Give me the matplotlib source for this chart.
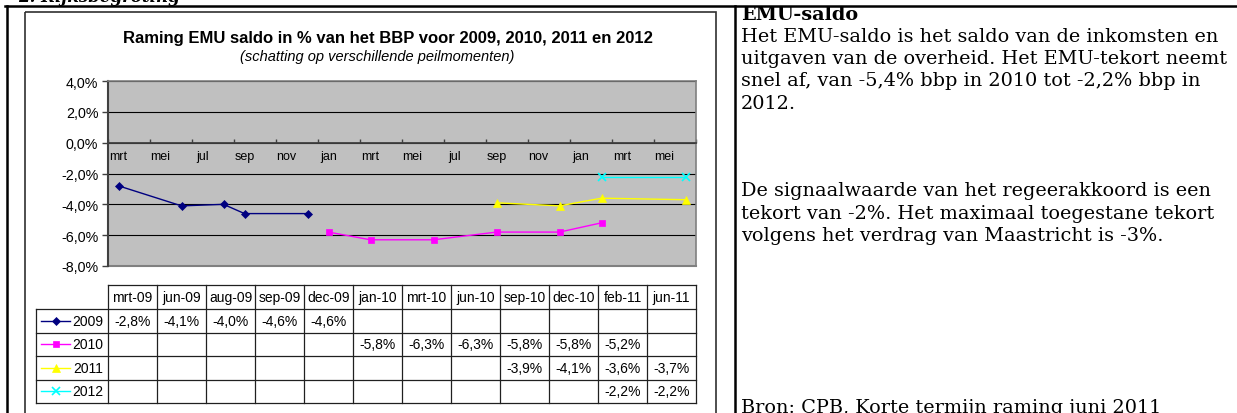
import matplotlib
matplotlib.use('Agg')
import matplotlib.pyplot as plt
import numpy as np
from matplotlib.patches import Rectangle

W, H = 1237, 414
nan = np.nan

maanden = ['jan', 'feb', 'mrt', 'apr', 'mei', 'jun', 'jul', 'aug', 'sep', 'okt', 'nov', 'dec']
peilmomenten = ['mrt-09', 'jun-09', 'aug-09', 'sep-09', 'dec-09', 'jan-10',
                'mrt-10', 'jun-10', 'sep-10', 'dec-10', 'feb-11', 'jun-11']
jaren = ['2009', '2010', '2011', '2012']
saldo_2009 = [-2.8, -4.1, -4.0, -4.6, -4.6, nan, nan, nan, nan, nan, nan, nan]
saldo_2010 = [nan, nan, nan, nan, nan, -5.8, -6.3, -6.3, -5.8, -5.8, -5.2, nan]
saldo_2011 = [nan, nan, nan, nan, nan, nan, nan, nan, -3.9, -4.1, -3.6, -3.7]
saldo_2012 = [nan, nan, nan, nan, nan, nan, nan, nan, nan, nan, -2.2, -2.2]
reeksen = [saldo_2009, saldo_2010, saldo_2011, saldo_2012]

kleuren = ['#000080', '#ff00ff', '#ffff00', '#00ffff']
markers = ['D', 's', '^', 'x']
msizes = [4, 5, 6, 5.5]

titel = 'Raming EMU saldo in % van het BBP voor 2009, 2010, 2011 en 2012'
subtitel = '(schatting op verschillende peilmomenten)'
alinea1 = ['Het EMU-saldo is het saldo van de inkomsten en',
           'uitgaven van de overheid. Het EMU-tekort neemt',
           'snel af, van -5,4% bbp in 2010 tot -2,2% bbp in',
           '2012.']
alinea2 = ['De signaalwaarde van het regeerakkoord is een',
           'tekort van -2%. Het maximaal toegestane tekort',
           'volgens het verdrag van Maastricht is -3%.']
bron = 'Bron: CPB, Korte termijn raming juni 2011'


def maand_index(label):
    m, j = label.split('-')
    return (int(j) - 9) * 12 + maanden.index(m) - 2


def pct(v):
    return ('%.1f%%' % v).replace('.', ',')


xpos = np.array([maand_index(p) for p in peilmomenten]) + 0.5
n_maanden = maand_index('jun-11') + 1

fig = plt.figure(figsize=(W / 100, H / 100), dpi=100)

# achtergrond-laag in pixelcoordinaten
bg = fig.add_axes([0, 0, 1, 1], zorder=0)
bg.set_xlim(0, W)
bg.set_ylim(H, 0)
bg.axis('off')

# pagina-lijnen
bg.plot([5, W], [7, 7], color='black', lw=1.8)
bg.plot([6.5, 6.5], [7, H], color='black', lw=1.8)
bg.plot([734.5, 734.5], [7, H], color='black', lw=1.8)
bg.text(18, 1.5, '2. Rijksbegroting', family='DejaVu Serif', fontsize=12,
        fontweight='bold', style='italic', va='baseline')

# grafiekgebied
bg.add_patch(Rectangle((25, 13), 691, 420, fill=False, ec='#303030', lw=1.2))
bg.text(388, 38, titel, family='Liberation Sans', fontsize=12, fontweight='bold',
        ha='center', va='center')
bg.text(377, 57, subtitel, family='Liberation Sans', fontsize=10.5, style='italic',
        ha='center', va='center')

# plot
ax = fig.add_axes([108 / W, 1 - 267 / H, 588 / W, 185 / H], zorder=1)
ax.set_facecolor('#c0c0c0')
ax.set_xlim(0, n_maanden)
ax.set_ylim(-8, 4)
yt = np.arange(-8, 4.1, 2)
ax.set_yticks(yt)
ax.set_yticklabels([pct(v) for v in yt], family='Liberation Sans', fontsize=10.3)
ax.yaxis.grid(True, color='black', lw=0.8)
ax.set_axisbelow(True)
ax.tick_params(axis='y', length=4, width=1, color='#404040', pad=3)

ax.spines['bottom'].set_position(('data', 0))
ax.spines['bottom'].set_color('#404040')
ax.spines['bottom'].set_linewidth(1.3)
ax.spines['left'].set_color('#404040')
ax.spines['left'].set_linewidth(1.5)
for s in ['top', 'right']:
    ax.spines[s].set_color('#808080')
    ax.spines[s].set_linewidth(1.2)
ax.axhline(-8, color='#808080', lw=1.5, clip_on=False)

ax.set_xticks(np.arange(0, n_maanden + 1, 2))
ax.set_xticklabels([])
ax.tick_params(axis='x', which='major', direction='in', length=3, width=1, color='#404040')
ax.set_xticks(np.arange(0, n_maanden, 2) + 0.5, minor=True)
ax.set_xticklabels([maanden[(i + 2) % 12] for i in range(0, n_maanden, 2)], minor=True,
                   family='Liberation Sans', fontsize=9)
ax.tick_params(axis='x', which='minor', length=0, pad=5)

for waarden, kl, mk, ms in zip(reeksen, kleuren, markers, msizes):
    w = np.array(waarden)
    ok = ~np.isnan(w)
    ax.plot(xpos[ok], w[ok], color=kl, marker=mk, markersize=ms, lw=1,
            markeredgewidth=1.2 if mk == 'x' else 0.5, markeredgecolor=kl, clip_on=False)

# datatabel
x0, kolb = 108, 49
rij_y = [310, 333.5, 357, 380.5, 404]
kop_top = 286
x_eind = x0 + kolb * len(peilmomenten)
lijn = dict(color='#202020', lw=0.9)
bg.plot([x0, x_eind], [kop_top, kop_top], **lijn)
for y in rij_y:
    bg.plot([36, x_eind], [y, y], **lijn)
bg.plot([36, 36], [rij_y[0], rij_y[-1]], **lijn)
for i in range(len(peilmomenten) + 1):
    bg.plot([x0 + i * kolb] * 2, [kop_top, rij_y[-1]], **lijn)
for i, p in enumerate(peilmomenten):
    bg.text(x0 + (i + 0.5) * kolb, (kop_top + rij_y[0]) / 2, p, family='Liberation Sans',
            fontsize=10, ha='center', va='center')
for r, (jaar, waarden) in enumerate(zip(jaren, reeksen)):
    yc = (rij_y[r] + rij_y[r + 1]) / 2
    bg.plot([41, 70], [yc, yc], color=kleuren[r], lw=1)
    bg.plot([55.5], [yc], marker=markers[r], color=kleuren[r], markersize=msizes[r],
            markeredgewidth=1.2 if markers[r] == 'x' else 0.5)
    bg.text(103, yc, jaar, family='Liberation Sans', fontsize=10, ha='right', va='center')
    for i, v in enumerate(waarden):
        if not np.isnan(v):
            bg.text(x0 + (i + 0.5) * kolb, yc, pct(v),
                    family='Liberation Sans', fontsize=10, ha='center', va='center')

# tekst rechts
tx = 741
serif = dict(family='DejaVu Serif', fontsize=13.9, va='baseline')
bg.text(tx, 20, 'EMU-saldo', fontweight='bold', **serif)
for i, regel in enumerate(alinea1):
    bg.text(tx, 42 + i * 22.2, regel, **serif)
for i, regel in enumerate(alinea2):
    bg.text(tx, 196 + i * 22.6, regel, **serif)
bg.text(tx, 413, bron, **serif)

fig.savefig('out.png', dpi=100)
